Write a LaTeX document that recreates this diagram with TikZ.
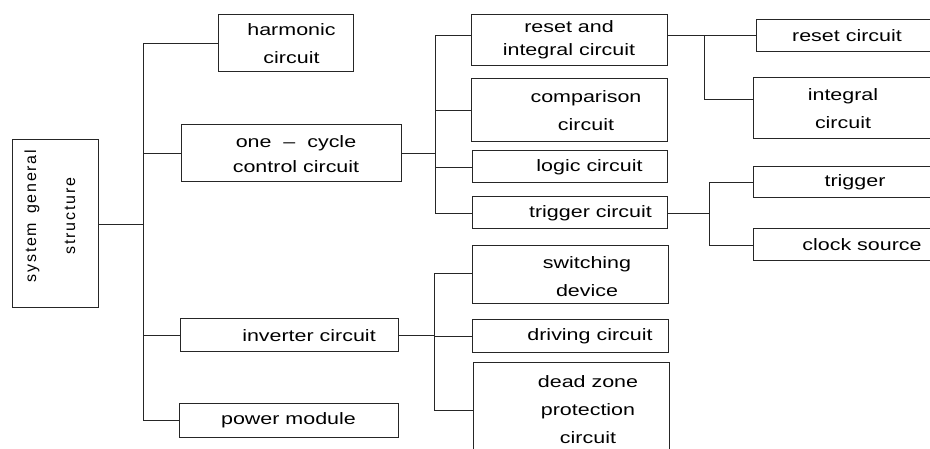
\documentclass[tikz,border=0pt]{standalone}
\usepackage{fontspec}
\setmainfont{Liberation Sans}[FakeStretch=1.3]
\newfontfamily\rootfont{Liberation Sans}[LetterSpace=11]
\usepackage{tikz}
\tikzset{box/.style 2 args={draw=black!85, line width=1pt, minimum width=#1pt, minimum height=#2pt, inner sep=0pt}}
\tikzset{tx/.style={align=center, inner sep=0pt, font=\fontsize{16.5}{28}\selectfont}}
\tikzset{wire/.style={draw=black!85, line width=0.9pt}}

\begin{document}
\begin{tikzpicture}[x=1pt, y=-1pt]
    \useasboundingbox (0,0) rectangle (930,449);
    % root
    \node[box={86}{168}] (sys) at (55,224) {};
    \node[rotate=90, align=center, inner sep=0pt, font=\rootfont\fontsize{16}{39}\selectfont] (sysT) at (50,216) {system\hspace{9pt}general\\structure};
    % first level
    \node[box={135}{57}] (harm) at (285.5,43.5) {};
    \node[tx] (harmT) at ([xshift=6]harm) {harmonic\\circuit};
    \node[box={220}{57}] (occ) at (291,153.5) {};
    \node[tx] (occT) at ([xshift=5,yshift=-1]occ) {one \ – \ cycle\\[-3pt]control circuit};
    \node[box={218}{33}] (inv) at (289,335.5) {};
    \node[tx] (invT) at ([xshift=20]inv) {inverter circuit};
    \node[box={219}{34}] (pwr) at (288.5,420) {};
    \node[tx] (pwrT) at (pwr) {power module};
    % second level
    \node[box={196}{51}] (ri) at (569,40.5) {};
    \node[tx] (riT) at ([yshift=1]ri) {reset and\\[-5pt]integral circuit};
    \node[box={196}{63}] (cmp) at (569,110.5) {};
    \node[tx] (cmpT) at ([xshift=17]cmp) {comparison\\circuit};
    \node[box={195}{32}] (lgc) at (569.5,167) {};
    \node[tx] (lgcT) at ([xshift=20]lgc) {logic circuit};
    \node[box={195}{32}] (trc) at (569.5,213) {};
    \node[tx] (trcT) at ([xshift=21]trc) {trigger circuit};
    \node[box={196}{58}] (sw) at (570,275) {};
    \node[tx] (swT) at ([xshift=17,yshift=-2]sw) {switching\\device};
    \node[box={196}{33}] (drv) at (570,336.5) {};
    \node[tx] (drvT) at ([xshift=20]drv) {driving circuit};
    \node[box={196}{94}] (dz) at (571,410) {};
    \node[tx] (dzT) at ([xshift=17]dz) {dead zone\\protection\\circuit};
    % third level
    \node[box={200}{32}] (rst) at (856,36) {};
    \node[tx] (rstT) at ([xshift=-9]rst) {reset circuit};
    \node[box={200}{61}] (itg) at (853,108.5) {};
    \node[tx] (itgT) at ([xshift=-10]itg) {integral\\circuit};
    \node[box={200}{31}] (trg) at (853,182.5) {};
    \node[tx] (trgT) at ([xshift=2]trg) {trigger};
    \node[box={200}{32}] (clk) at (853,245) {};
    \node[tx] (clkT) at ([xshift=9]clk) {clock source};
    % connectors
    \draw[wire] (sys.east) -- ++(45,0) coordinate (j0);
    \draw[wire] (harm.west) -| (j0);
    \draw[wire] (pwr.west) -| (j0);
    \draw[wire] (occ.west) -- (occ.west -| j0);
    \draw[wire] (inv.west) -- (inv.west -| j0);
    \draw[wire] (occ.east) -- ++(34,0) coordinate (j1);
    \draw[wire] ([yshift=5]ri.west) -| (j1);
    \draw[wire] (trc.west) -| (j1);
    \draw[wire] (cmp.west) -- (cmp.west -| j1);
    \draw[wire] (lgc.west) -- (lgc.west -| j1);
    \draw[wire] (inv.east) -- ++(36,0) coordinate (j2);
    \draw[wire] ([yshift=2]sw.west) -| (j2);
    \draw[wire] (dz.west) -| (j2);
    \draw[wire] (drv.west) -- (drv.west -| j2);
    \coordinate (r0) at ([yshift=5]ri.east);
    \draw[wire] (r0) -- (r0 -| rst.west);
    \draw[wire] ([xshift=37]r0) |- ([yshift=9.5]itg.west);
    \draw[wire] (trc.east) -- ++(42,0) coordinate (j4);
    \draw[wire] (trg.west) -| (j4);
    \draw[wire] (clk.west) -| (j4);
\end{tikzpicture}
\end{document}
